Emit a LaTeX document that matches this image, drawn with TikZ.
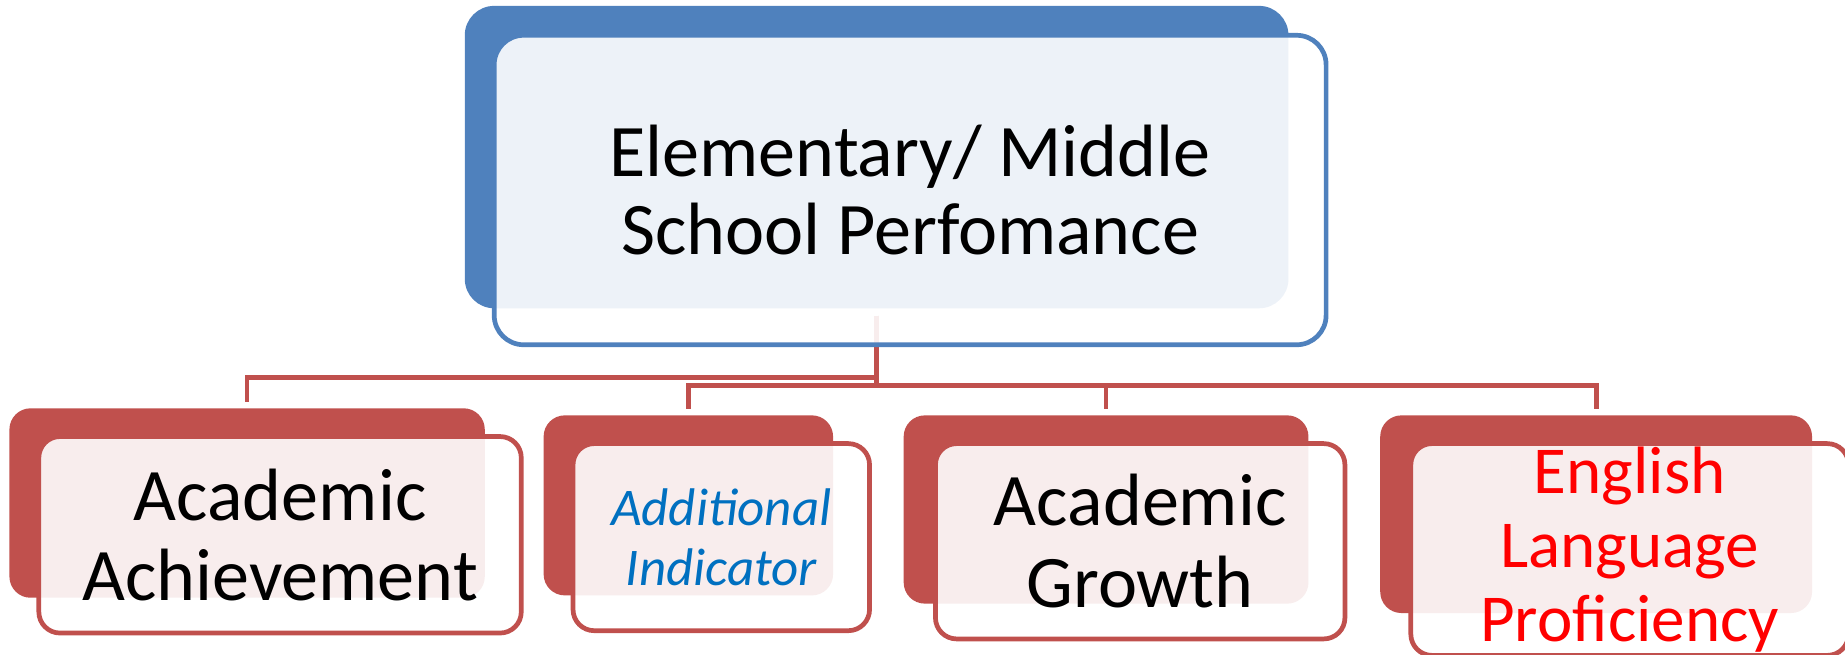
\documentclass[tikz,border=0pt]{standalone}
\usepackage{fontspec}
\setmainfont{Carlito}
\usepackage{tikz}
\usetikzlibrary{positioning,backgrounds}
\definecolor{topblue}{HTML}{4F81BD}
\definecolor{boxred}{HTML}{C0504D}
\definecolor{txtblue}{HTML}{0070C0}
\definecolor{txtred}{HTML}{FF0000}
\tikzset{
  backbox/.style={fill=#1, draw=none, rounded corners=18pt, inner sep=0pt},
  frontbox/.style={draw=#1, line width=4pt, fill=white, fill opacity=0.9,
    text opacity=1, rounded corners=18pt, inner sep=0pt, align=center},
  link/.style={draw=boxred, line width=4pt, shorten <=6pt, shorten >=5pt}
}

\begin{document}
\begin{tikzpicture}[x=1pt,y=-1pt]
      \useasboundingbox (0,0) rectangle (1568,556);
      % top box
      \node[backbox=topblue, rounded corners=25pt, minimum width=700pt, minimum height=257pt] (topback) at (745,133.5) {};
      \node[frontbox=topblue, rounded corners=25pt, minimum width=707pt, minimum height=263pt,
        font=\fontsize{63}{66}\selectfont] (top) at (773.5,161.5) {Elementary/ Middle\\School Perfomance};
      % lower boxes
      \node[backbox=boxred, minimum width=404pt, minimum height=161pt] (achback) at (210,427.5) {};
      \node[frontbox=boxred, minimum width=410pt, minimum height=167pt,
        font=\fontsize{63}{68}\selectfont] (ach) at (238,454.5) {Academic\\Achievement};
      \node[backbox=boxred, minimum width=246pt, minimum height=153pt] (addback) at (585,429.5) {};
      \node[frontbox=boxred, minimum width=252pt, minimum height=159pt, text=txtblue,
        font=\fontsize{45}{51}\selectfont\itshape] (add) at (613,456.5) {Additional\\Indicator};
      \node[backbox=boxred, minimum width=344pt, minimum height=160pt] (growback) at (940,433) {};
      \node[frontbox=boxred, minimum width=348pt, minimum height=166pt,
        font=\fontsize{63}{70}\selectfont] (grow) at (969,460) {Academic\\Growth};
      \node[backbox=boxred, minimum width=367pt, minimum height=168pt] (elpback) at (1356.5,437) {};
      \node[frontbox=boxred, minimum width=372pt, minimum height=180pt, text=txtred,
        font=\fontsize{57}{63}\selectfont] (elp) at (1385,467) {English\\Language\\Proficiency};
      % connectors
      \begin{scope}[on background layer]
      \draw[link] (topback.south) |- ([yshift=26pt]achback.north) -- (achback.north);
      \draw[link] (topback.south) |- ([yshift=25pt]addback.north) -- (addback.north);
      \draw[link] (topback.south) |- ([yshift=25pt]growback.north) -- (growback.north);
      \draw[link] (topback.south) |- ([yshift=25pt]elpback.north) -- (elpback.north);
      \end{scope}
    \end{tikzpicture}
\end{document}
